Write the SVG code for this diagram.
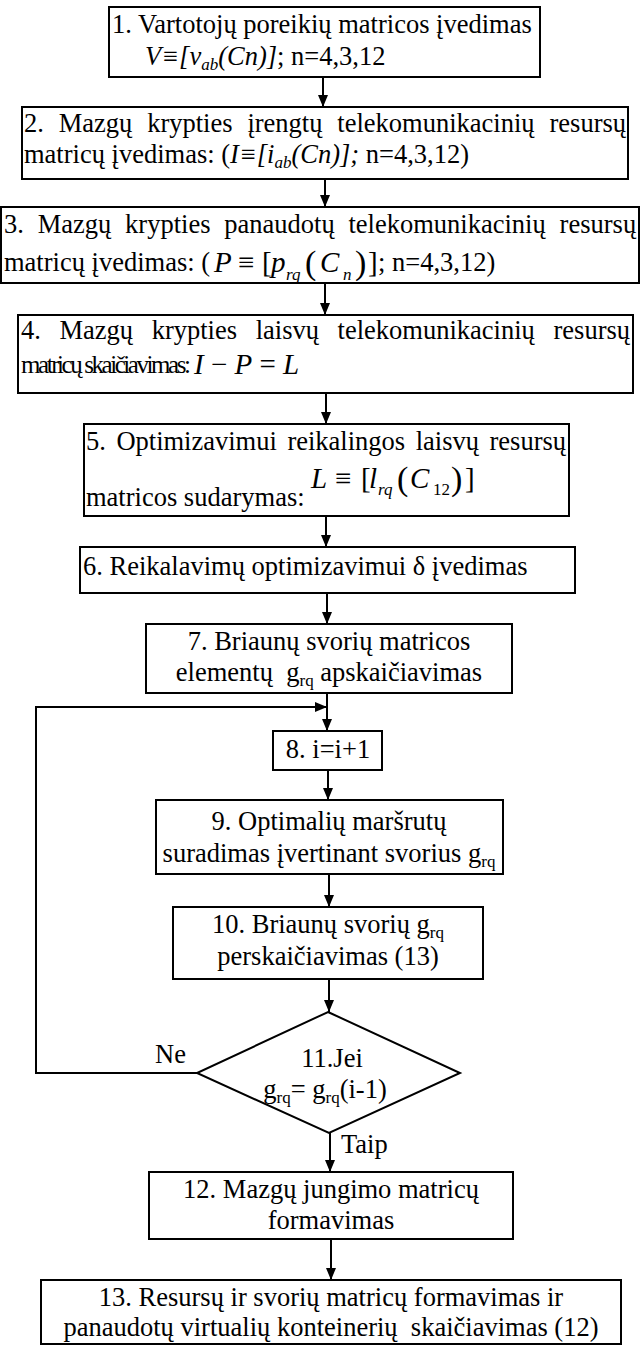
<svg xmlns="http://www.w3.org/2000/svg" width="640" height="1346" viewBox="0 0 640 1346">
<style>
text{font-family:"Liberation Serif","Times New Roman",serif;font-size:26.5px;fill:#000}
.c{text-anchor:middle}
.i{font-style:italic}
.n{font-style:normal}
.f{font-size:29px}
.fi{font-size:29px;font-style:italic}
.p{font-size:34px}
.s{font-size:17px}
.box{fill:#fff;stroke:#000;stroke-width:2}
.ln{fill:none;stroke:#000;stroke-width:2}
</style>
<defs>
<marker id="ah" viewBox="0 0 12 10" refX="12" refY="5" markerWidth="12" markerHeight="10" markerUnits="userSpaceOnUse" orient="auto">
<path d="M0,0 L12,5 L0,10 z" fill="#000"/>
</marker>
</defs>
<rect width="640" height="1346" fill="#fff"/>

<g id="connectors">
<line class="ln" x1="323" y1="77" x2="323" y2="107" marker-end="url(#ah)"/>
<line class="ln" x1="325" y1="179" x2="325" y2="207" marker-end="url(#ah)"/>
<line class="ln" x1="325" y1="283" x2="325" y2="315" marker-end="url(#ah)"/>
<line class="ln" x1="326" y1="393" x2="326" y2="424" marker-end="url(#ah)"/>
<line class="ln" x1="326" y1="516" x2="326" y2="547" marker-end="url(#ah)"/>
<line class="ln" x1="327" y1="593" x2="327" y2="624" marker-end="url(#ah)"/>
<line class="ln" x1="327" y1="693" x2="327" y2="731" marker-end="url(#ah)"/>
<line class="ln" x1="328" y1="770" x2="328" y2="800" marker-end="url(#ah)"/>
<line class="ln" x1="329" y1="874" x2="329" y2="907" marker-end="url(#ah)"/>
<line class="ln" x1="329" y1="979" x2="329" y2="1012" marker-end="url(#ah)"/>
<line class="ln" x1="330" y1="1133" x2="330" y2="1172" marker-end="url(#ah)"/>
<line class="ln" x1="331" y1="1239" x2="331" y2="1280" marker-end="url(#ah)"/>
<polyline class="ln" points="197,1073 36,1073 36,707 327,707" marker-end="url(#ah)"/>
<text x="155" y="1063">Ne</text>
<text x="341" y="1153">Taip</text>
</g>

<g id="n1">
<rect class="box" x="109" y="7" width="431" height="70"/>
<text x="112" y="33">1. Vartotojų poreikių matricos įvedimas</text>
<text x="145" y="65"><tspan class="i">V≡[v</tspan><tspan class="i s" dy="5">ab</tspan><tspan class="i" dy="-5">(Cn)]</tspan>; n=4,3,12</text>
</g>

<g id="n2">
<rect class="box" x="22" y="107" width="606" height="72"/>
<text y="132"><tspan x="24">2.</tspan><tspan x="58.7">Mazgų</tspan><tspan x="147.2">krypties</tspan><tspan x="247.4">įrengtų</tspan><tspan x="337.3">telekomunikacinių</tspan><tspan x="549.5">resursų</tspan></text>
<text x="24" y="163">matricų įvedimas: (<tspan class="i">I≡[i</tspan><tspan class="i s" dy="5">ab</tspan><tspan class="i" dy="-5">(Cn)];</tspan> n=4,3,12)</text>
</g>

<g id="n3">
<rect class="box" x="1" y="207" width="638" height="76"/>
<text y="233"><tspan x="4">3.</tspan><tspan x="37.7">Mazgų</tspan><tspan x="125.1">krypties</tspan><tspan x="224.3">panaudotų</tspan><tspan x="348.5">telekomunikacinių</tspan><tspan x="559.6">resursų</tspan></text>
<text x="4" y="271">matricų įvedimas: (<tspan class="fi" x="214" y="272">P</tspan><tspan class="f" x="238">≡</tspan><tspan class="f" x="262">[</tspan><tspan class="fi" x="271">p</tspan><tspan class="i s" x="286" y="280">rq</tspan><tspan class="p" x="305" y="274">(</tspan><tspan class="fi" x="320" y="272">C</tspan><tspan class="i s" x="343" y="280">n</tspan><tspan class="p" x="355" y="274">)</tspan><tspan class="f" x="368" y="272">]</tspan><tspan x="378" y="271">; n=4,3,12)</tspan></text>
</g>

<g id="n4">
<rect class="box" x="18" y="315" width="615" height="78"/>
<text y="339"><tspan x="21">4.</tspan><tspan x="59.5">Mazgų</tspan><tspan x="151.7">krypties</tspan><tspan x="255.7">laisvų</tspan><tspan x="337.6">telekomunikacinių</tspan><tspan x="553.5">resursų</tspan></text>
<text x="21" y="373" style="font-size:25px" textLength="170" lengthAdjust="spacing">matricų skaičiavimas:</text>
<text class="fi" x="194" y="374">I<tspan class="n"> − </tspan>P<tspan class="n"> = </tspan>L</text>
</g>

<g id="n5">
<rect class="box" x="84" y="424" width="485" height="92"/>
<text y="450"><tspan x="86">5.</tspan><tspan x="116.4">Optimizavimui</tspan><tspan x="287.4">reikalingos</tspan><tspan x="415.7">laisvų</tspan><tspan x="489.5">resursų</tspan></text>
<text class="fi" x="311" y="488">L<tspan class="f n" x="335">≡</tspan><tspan class="f n" x="361">[</tspan><tspan x="369">l</tspan><tspan class="s" x="378" y="495">rq</tspan><tspan class="p n" x="397" y="490">(</tspan><tspan x="410" y="488">C</tspan><tspan class="s n" x="433" y="495">12</tspan><tspan class="p n" x="451" y="490">)</tspan><tspan class="f n" x="465" y="488">]</tspan></text>
<text x="86" y="506">matricos sudarymas:</text>
</g>

<g id="n6">
<rect class="box" x="80" y="547" width="495" height="46"/>
<text x="83" y="575">6. Reikalavimų optimizavimui δ įvedimas</text>
</g>

<g id="n7">
<rect class="box" x="146" y="624" width="366" height="69"/>
<text class="c" x="329" y="650">7. Briaunų svorių matricos</text>
<text class="c" x="329" y="681">elementų&#160; g<tspan class="s" dy="5">rq</tspan><tspan dy="-5"> apskaičiavimas</tspan></text>
</g>

<g id="n8">
<rect class="box" x="273" y="731" width="109" height="39"/>
<text class="c" x="328" y="758">8. i=i+1</text>
</g>

<g id="n9">
<rect class="box" x="156" y="800" width="347" height="74"/>
<text class="c" x="329" y="830">9. Optimalių maršrutų</text>
<text class="c" x="329" y="862">suradimas įvertinant svorius g<tspan class="s" dy="5">rq</tspan></text>
</g>

<g id="n10">
<rect class="box" x="173" y="907" width="310" height="72"/>
<text class="c" x="328" y="933">10. Briaunų svorių g<tspan class="s" dy="5">rq</tspan></text>
<text class="c" x="328" y="965">perskaičiavimas (13)</text>
</g>

<g id="n11">
<polygon class="box" points="328,1012 460,1073 329,1133 197,1073"/>
<text class="c" x="332" y="1067">11.Jei</text>
<text class="c" x="325" y="1098">g<tspan class="s" dy="5">rq</tspan><tspan dy="-5">= g</tspan><tspan class="s" dy="5">rq</tspan><tspan dy="-5">(i-1)</tspan></text>
</g>

<g id="n12">
<rect class="box" x="149" y="1172" width="364" height="67"/>
<text class="c" x="331" y="1198">12. Mazgų jungimo matricų</text>
<text class="c" x="331" y="1229">formavimas</text>
</g>

<g id="n13">
<rect class="box" x="41" y="1280" width="580" height="64"/>
<text class="c" x="331" y="1306">13. Resursų ir svorių matricų formavimas ir</text>
<text class="c" x="331" y="1336">panaudotų virtualių konteinerių&#160; skaičiavimas (12)</text>
</g>
</svg>
